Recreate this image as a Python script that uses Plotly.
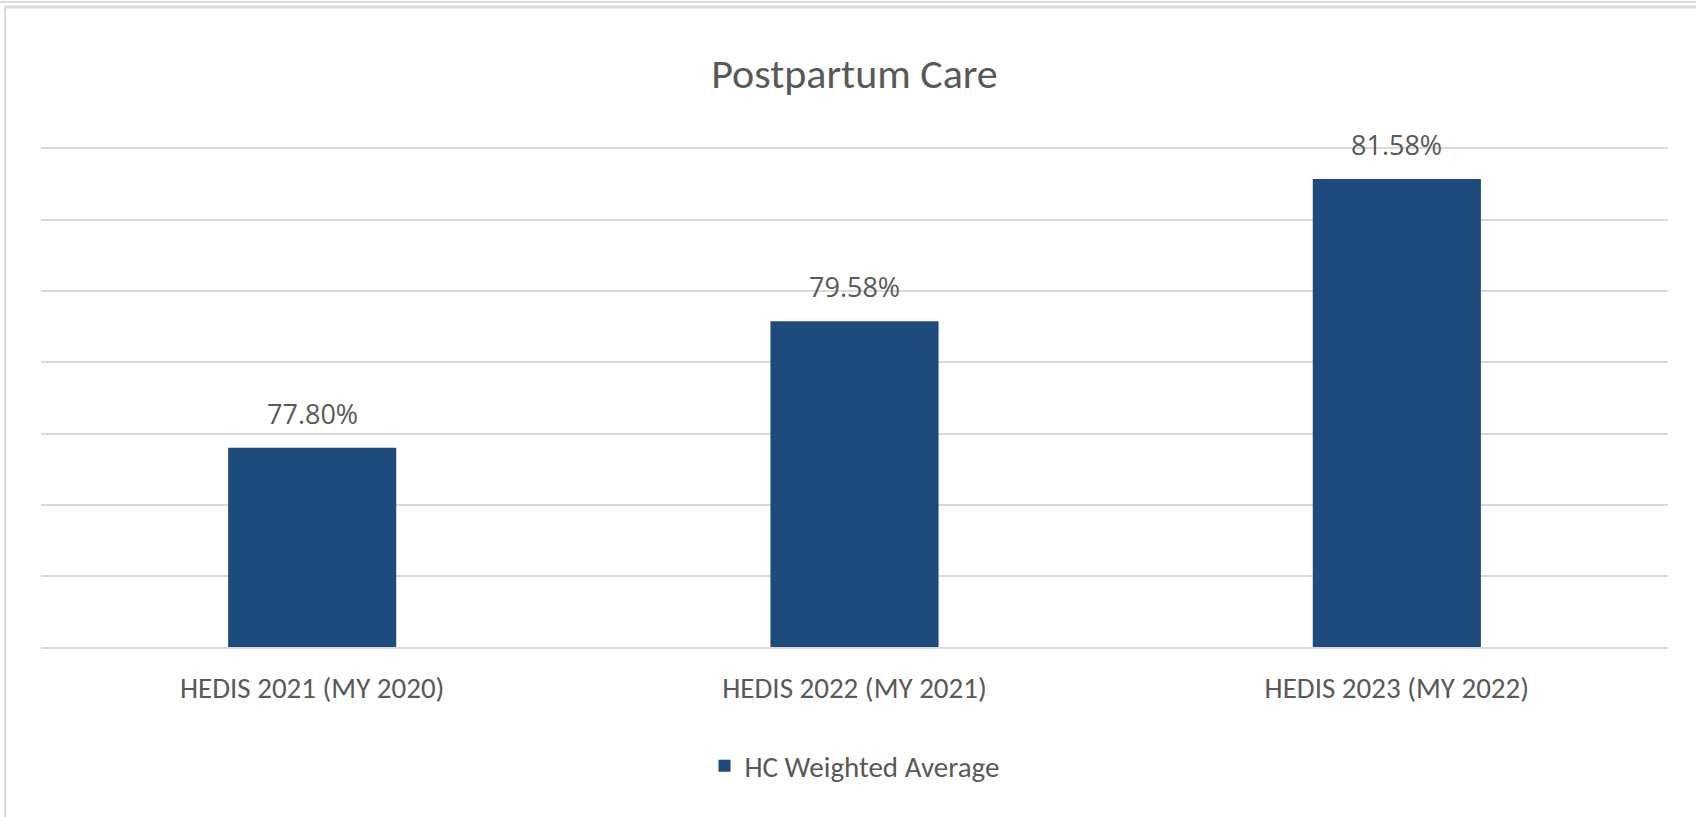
import plotly.graph_objects as go

categories = ["HEDIS 2021 (MY 2020)", "HEDIS 2022 (MY 2021)", "HEDIS 2023 (MY 2022)"]
values = [77.80, 79.58, 81.58]
series_name = "HC Weighted Average"
title_text = "Postpartum Care"

BAR = "#1F4A7C"
TXT = "#595959"
GRID = "#D9D9D9"
NARROW = "Carlito, Liberation Sans Narrow, Open Sans, sans-serif"

W, H = 1696, 817
ML, MR, MT, MB = 41, 28, 149, 170
PW, PH = W - ML - MR, H - MT - MB


def px(xp):
    return (xp - ML) / PW


def py(yp):
    return (H - MB - yp) / PH


fig = go.Figure()
fig.add_trace(go.Bar(
    x=categories, y=values, name=series_name,
    marker=dict(color=BAR, line=dict(width=0)),
    showlegend=True,
))

for c, v in zip(categories, values):
    fig.add_annotation(x=c, y=v, text=f"{v:.2f}%", showarrow=False,
                       yanchor="bottom", yshift=14,
                       font=dict(family="Open Sans, sans-serif", size=27, color=TXT))

fig.update_layout(
    width=W, height=H,
    paper_bgcolor="white", plot_bgcolor="white",
    margin=dict(l=ML, r=MR, t=MT, b=MB, autoexpand=False),
    bargap=0.69,
    title=dict(text=title_text, x=0.5, xanchor="center", y=1 - 73 / H, yanchor="middle",
               xref="paper", font=dict(family=NARROW, size=42, color=TXT)),
    xaxis=dict(showline=True, mirror=True, linecolor=GRID, linewidth=2, ticks="",
               tickfont=dict(family=NARROW, size=29, color=TXT),
               ticklabelstandoff=14, showgrid=False, automargin=False),
    yaxis=dict(range=[75, 82], dtick=1, showticklabels=False, showgrid=True,
               gridcolor=GRID, gridwidth=2, zeroline=False, showline=False, automargin=False),
    legend=dict(orientation="h", x=0.5, xanchor="center", y=py(766), yanchor="middle",
                font=dict(family=NARROW, size=29, color=TXT), itemwidth=30),
    shapes=[
        dict(type="line", xref="paper", yref="paper", x0=px(0), x1=px(W), y0=py(2), y1=py(2),
             line=dict(color="#D3E0E2", width=2), layer="below"),
        dict(type="line", xref="paper", yref="paper", x0=px(5), x1=px(W), y0=py(7), y1=py(7),
             line=dict(color="#DADADA", width=3), layer="below"),
        dict(type="line", xref="paper", yref="paper", x0=px(5), x1=px(5), y0=py(7), y1=py(H),
             line=dict(color="#DADADA", width=2), layer="below"),
    ],
)

fig.write_html("out.html", config={"displayModeBar": False},
               post_script="document.body.style.margin='0';document.body.style.overflow='hidden';")
